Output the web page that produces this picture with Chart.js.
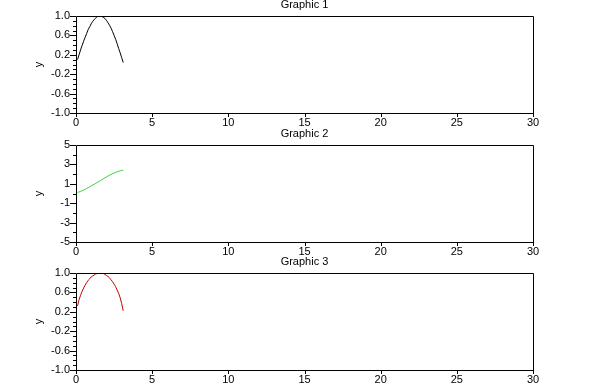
<!DOCTYPE html>
<html>
<head>
<meta charset="utf-8">
<script src="https://cdn.jsdelivr.net/npm/chart.js@4.4.1/dist/chart.umd.min.js"></script>
<style>
  html, body { margin: 0; padding: 0; background: #ffffff; }
  body { width: 610px; height: 386px; position: relative; overflow: hidden; }
  canvas { position: absolute; left: 0; }
</style>
</head>
<body>
<script>
// ---- data ----
const xValues = [0.1,0.2,0.3,0.4,0.5,0.6,0.7,0.8,0.9,1.0,1.1,1.2,1.3,1.4,1.5,1.6,1.7,1.8,1.9,2.0,2.1,2.2,2.3,2.4,2.5,2.6,2.7,2.8,2.9,3.0,3.1];
const series1 = [0.10,0.20,0.30,0.39,0.48,0.56,0.64,0.72,0.78,0.84,0.89,0.93,0.96,0.99,1.00,1.00,0.99,0.97,0.95,0.91,0.86,0.81,0.75,0.68,0.60,0.52,0.43,0.33,0.24,0.14,0.04];
const series2 = [0.11,0.16,0.22,0.28,0.35,0.43,0.52,0.60,0.69,0.78,0.87,0.96,1.05,1.14,1.23,1.33,1.42,1.52,1.62,1.71,1.80,1.88,1.96,2.04,2.11,2.18,2.24,2.29,2.34,2.38,2.41];
const series3 = [0.32,0.45,0.54,0.62,0.69,0.75,0.80,0.85,0.88,0.92,0.94,0.96,0.98,0.99,1.00,1.00,0.99,0.99,0.97,0.95,0.93,0.90,0.86,0.82,0.77,0.72,0.65,0.58,0.49,0.37,0.22];

const titles = ['Graphic 1', 'Graphic 2', 'Graphic 3'];
const xTicks = [0, 5, 10, 15, 20, 25, 30];
const xTickLabels = ['0', '5', '10', '15', '20', '25', '30'];
const yTicks1 = [-1.0, -0.6, -0.2, 0.2, 0.6, 1.0];
const yTickLabels1 = ['-1.0', '-0.6', '-0.2', '0.2', '0.6', '1.0'];
const yTicks2 = [-5, -3, -1, 1, 3, 5];
const yTickLabels2 = ['-5', '-3', '-1', '1', '3', '5'];
const yTicks3 = [-1.0, -0.6, -0.2, 0.2, 0.6, 1.0];
const yTickLabels3 = ['-1.0', '-0.6', '-0.2', '0.2', '0.6', '1.0'];
const yMinorSteps = [0.1, 1, 0.1];

const FONT = '"Liberation Sans", Arial, sans-serif';

const panels = [
  { title: titles[0], ys: series1, color: '#000000', yTicks: yTicks1, yLabels: yTickLabels1, minor: yMinorSteps[0], top: 0, height: 128 },
  { title: titles[1], ys: series2, color: '#33cc33', yTicks: yTicks2, yLabels: yTickLabels2, minor: yMinorSteps[1], top: 129, height: 128 },
  { title: titles[2], ys: series3, color: '#c00000', yTicks: yTicks3, yLabels: yTickLabels3, minor: yMinorSteps[2], top: 257, height: 129 }
];

const framePlugin = {
  id: 'frameTicks',
  afterDraw(chart, args, opts) {
    const ctx = chart.ctx;
    const a = chart.chartArea;
    const ys = chart.scales.y;
    const xs = chart.scales.x;
    ctx.save();
    ctx.strokeStyle = '#000';
    ctx.lineWidth = 1;
    ctx.beginPath();
    ctx.rect(Math.round(a.left) + 0.5, Math.round(a.top) + 0.5, Math.round(a.right - a.left), Math.round(a.bottom - a.top));
    ctx.stroke();
    const majors = opts.majors;
    const step = opts.minor;
    const n = Math.round((ys.max - ys.min) / step);
    ctx.beginPath();
    for (let i = 0; i <= n; i++) {
      const v = ys.min + i * step;
      const isMajor = majors.some(m => Math.abs(m - v) < step / 10);
      const py = Math.round(ys.getPixelForValue(v)) + 0.5;
      const len = isMajor ? 6 : 3;
      ctx.moveTo(Math.round(a.left) - len, py);
      ctx.lineTo(Math.round(a.left), py);
    }
    xTicks.forEach(v => {
      const px = Math.round(xs.getPixelForValue(v)) + 0.5;
      ctx.moveTo(px, Math.round(a.bottom));
      ctx.lineTo(px, Math.round(a.bottom) + 4);
    });
    ctx.stroke();
    ctx.fillStyle = '#000';
    ctx.font = '11px ' + FONT;
    ctx.textAlign = 'center';
    ctx.textBaseline = 'middle';
    ctx.fillText(opts.title, (a.left + a.right) / 2, a.top - 11);
    ctx.restore();
  }
};

panels.forEach((p, idx) => {
  const c = document.createElement('canvas');
  c.width = 610; c.height = p.height;
  c.style.top = p.top + 'px';
  c.style.width = '610px'; c.style.height = p.height + 'px';
  document.body.appendChild(c);
  const pts = xValues.map((x, i) => ({ x: x, y: p.ys[i] }));
  new Chart(c.getContext('2d'), {
    type: 'line',
    data: { datasets: [{ data: pts, borderColor: p.color, borderWidth: 1, pointRadius: 0, tension: 0, fill: false }] },
    options: {
      responsive: false, animation: false, devicePixelRatio: 1,
      layout: { padding: { top: 16, right: 77, bottom: 0, left: 32 } },
      plugins: {
        legend: { display: false }, tooltip: { enabled: false }, title: { display: false },
        frameTicks: { title: p.title, majors: p.yTicks, minor: p.minor }
      },
      scales: {
        x: {
          type: 'linear', min: 0, max: 30,
          grid: { display: false, drawTicks: false, tickLength: 0 },
          border: { display: false },
          afterBuildTicks: (s) => { s.ticks = xTicks.map(v => ({ value: v })); },
          afterFit: (s) => { s.height = p.height - 113; },
          ticks: { autoSkip: false, maxRotation: 0, padding: 3, color: '#000', font: { family: FONT, size: 11 },
                   callback: (v, i) => xTickLabels[i] }
        },
        y: {
          type: 'linear', min: p.yTicks[0], max: p.yTicks[p.yTicks.length - 1],
          grid: { display: false, drawTicks: false, tickLength: 0 },
          border: { display: false },
          afterBuildTicks: (s) => { s.ticks = p.yTicks.map(v => ({ value: v })); },
          afterFit: (s) => { s.width = 44; },
          title: { display: true, text: 'y', color: '#000', font: { family: FONT, size: 11 }, padding: 0 },
          ticks: { autoSkip: false, padding: 6, color: '#000', font: { family: FONT, size: 11 },
                   callback: (v, i) => p.yLabels[i] }
        }
      }
    },
    plugins: [framePlugin]
  });
});
</script>
</body>
</html>
